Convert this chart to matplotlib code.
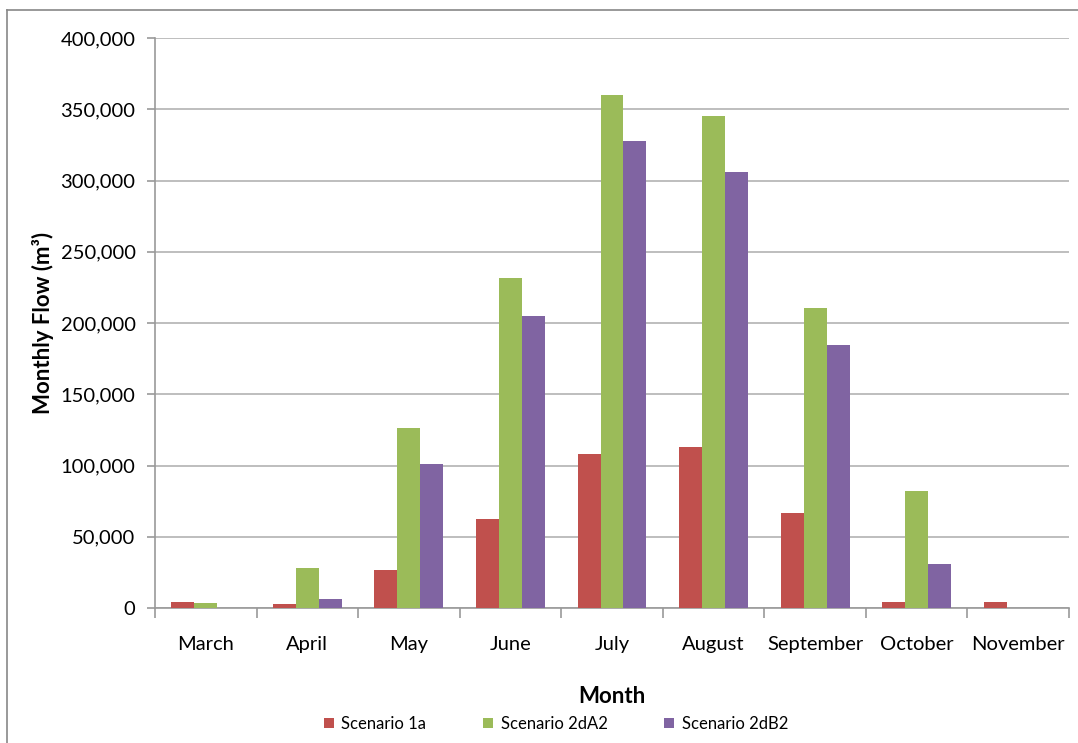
import matplotlib
matplotlib.use("Agg")
import matplotlib.pyplot as plt
from matplotlib.ticker import FuncFormatter, FixedLocator
from matplotlib.lines import Line2D
import numpy as np

months = ["March", "April", "May", "June", "July", "August",
          "September", "October", "November"]
scenario_1a = [4200, 2800, 26700, 62500, 108100, 113000, 66700, 4200, 4200]
scenario_2da2 = [3500, 28000, 126300, 231600, 360000, 345300, 210500, 82100, 0]
scenario_2db2 = [0, 6300, 101000, 204900, 327700, 306000, 184600, 30900, 0]
series_names = ["Scenario 1a", "Scenario 2dA2", "Scenario 2dB2"]
series_colors = ["#C0504D", "#9BBB59", "#8064A2"]

plt.rcParams["font.family"] = ["Lato", "DejaVu Sans"]

W, H = 1078, 743
fig = plt.figure(figsize=(W / 100, H / 100), dpi=100)
ax = fig.add_axes([155 / W, 1 - 608 / H, (1069 - 155) / W, (608 - 38) / H])

x = np.arange(len(months))
bw = 0.226
for i, (vals, name, col) in enumerate(zip([scenario_1a, scenario_2da2, scenario_2db2],
                                          series_names, series_colors)):
    ax.bar(x + (i - 1) * bw, vals, width=bw, color=col, label=name, zorder=3)

ax.set_xlim(-0.5, len(months) - 0.5)
ax.set_ylim(0, 400000)
ax.set_yticks(np.arange(0, 400001, 50000))
ax.yaxis.set_major_formatter(FuncFormatter(lambda v, p: f"{int(v):,}"))
ax.yaxis.grid(True, color="#B3B3B3", linewidth=1.2, zorder=0)
ax.set_axisbelow(True)

ax.set_xticks(x)
ax.set_xticklabels(months)
ax.xaxis.set_minor_locator(FixedLocator(np.arange(-0.5, len(months), 1.0)))
ax.tick_params(axis="x", which="major", length=0, pad=20, labelsize=14.5)
ax.tick_params(axis="x", which="minor", length=7, width=1.2, color="#999999", direction="out")
ax.tick_params(axis="y", length=6, width=1.2, color="#999999", labelsize=14.5, pad=8)

for s in ["top", "right"]:
    ax.spines[s].set_visible(False)
for s in ["left", "bottom"]:
    ax.spines[s].set_color("#999999")
    ax.spines[s].set_linewidth(1.2)

ax.set_ylabel("Monthly Flow (m³)", fontsize=16, fontweight="bold", labelpad=5)
ax.set_xlabel("Month", fontsize=16, fontweight="bold", labelpad=24)

fig.legend(loc="center", bbox_to_anchor=(556 / W, 1 - 724 / H), ncol=3,
           frameon=False, fontsize=12, handlelength=0.6, handleheight=0.6,
           columnspacing=3.4, handletextpad=0.45)

# chart area border
fig.add_artist(Line2D([7 / W, 7 / W], [0, 1 - 10 / H], transform=fig.transFigure,
                      color="#888888", linewidth=1.2))
fig.add_artist(Line2D([7 / W, 1], [1 - 10 / H, 1 - 10 / H], transform=fig.transFigure,
                      color="#888888", linewidth=1.2))

fig.savefig("out.png", dpi=100, facecolor="white")
